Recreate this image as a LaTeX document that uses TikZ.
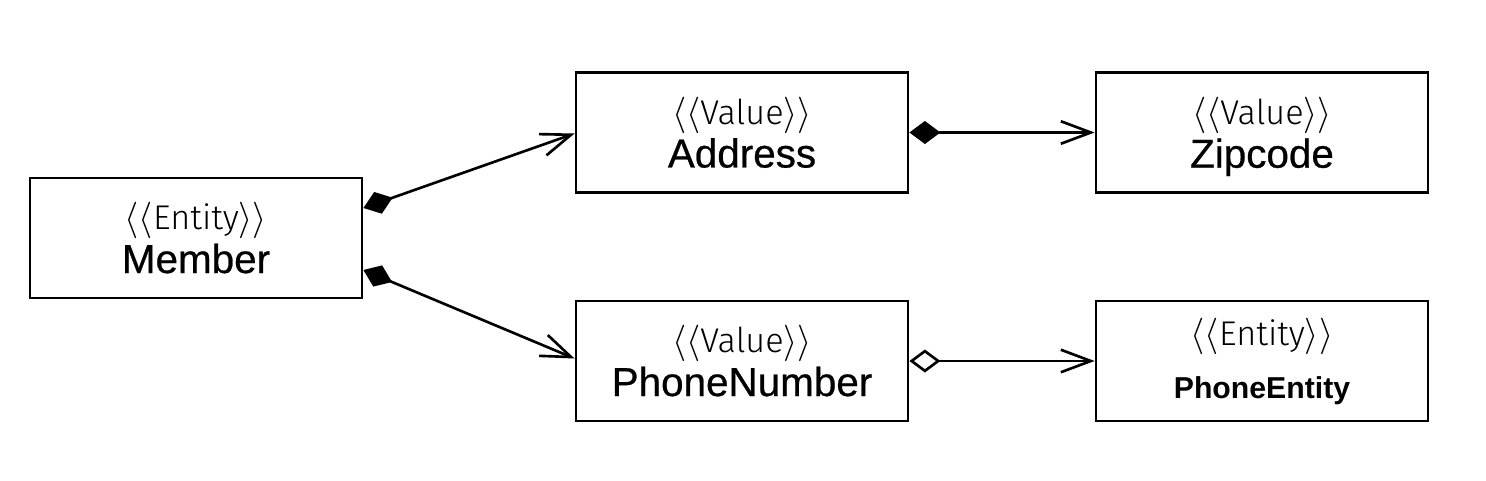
\documentclass[tikz,border=0pt]{standalone}
\usepackage{fontspec}
\setmainfont{Liberation Sans}
\newfontfamily\namefont{Liberation Sans}[FakeBold=0.6]
\newfontfamily\stereofont{Fira Sans}[UprightFont=* Light]
\usetikzlibrary{arrows.meta,positioning}

\newcommand{\stereo}[1]{{\fontsize{19.5}{19.5}\selectfont\stereofont$\langle\langle$#1$\rangle\rangle$}}

\tikzset{
  umlclass/.style={draw, line width=1.6pt, minimum width=6.64cm, minimum height=2.4cm,
    align=center, font=\fontsize{23}{24.5}\selectfont\namefont},
  compose/.style={line width=1.5pt,
    {Diamond[length=0.62cm,width=0.46cm]}-{Straight Barb[length=0.6cm,width=0.45cm,line width=1.5pt]}},
  aggregate/.style={line width=1.5pt,
    {Diamond[open,length=0.62cm,width=0.46cm,line width=1.5pt]}-{Straight Barb[length=0.6cm,width=0.45cm,line width=1.5pt]}}
}

\begin{document}
\begin{tikzpicture}
  \useasboundingbox (0,0) rectangle (29.72,9.6);

  \node[umlclass] (member) at (3.92,4.84) {\stereo{Entity}\\Member};
  \node[umlclass] (address) at (14.84,6.95) {\stereo{Value}\\Address};
  \node[umlclass] (zipcode) at (25.24,6.95) {\stereo{Value}\\\raisebox{0pt}[\height][0pt]{Zipcode}};
  \node[umlclass] (phone) at (14.84,2.38) {\stereo{Value}\\PhoneNumber};
  \node[umlclass] (phoneentity) at (25.24,2.38)
    {\stereo{Entity}\\[0.2cm]{\fontsize{17.2}{17}\selectfont\normalfont\bfseries PhoneEntity}};

  \draw[compose] ([yshift=0.6cm]member.east) -- ([yshift=-0.02cm]address.west);
  \draw[compose] ([yshift=-0.64cm]member.east) -- ([yshift=0.05cm]phone.west);
  \draw[compose] (address.east) -- (zipcode.west);
  \draw[aggregate] (phone.east) -- (phoneentity.west);
\end{tikzpicture}
\end{document}
